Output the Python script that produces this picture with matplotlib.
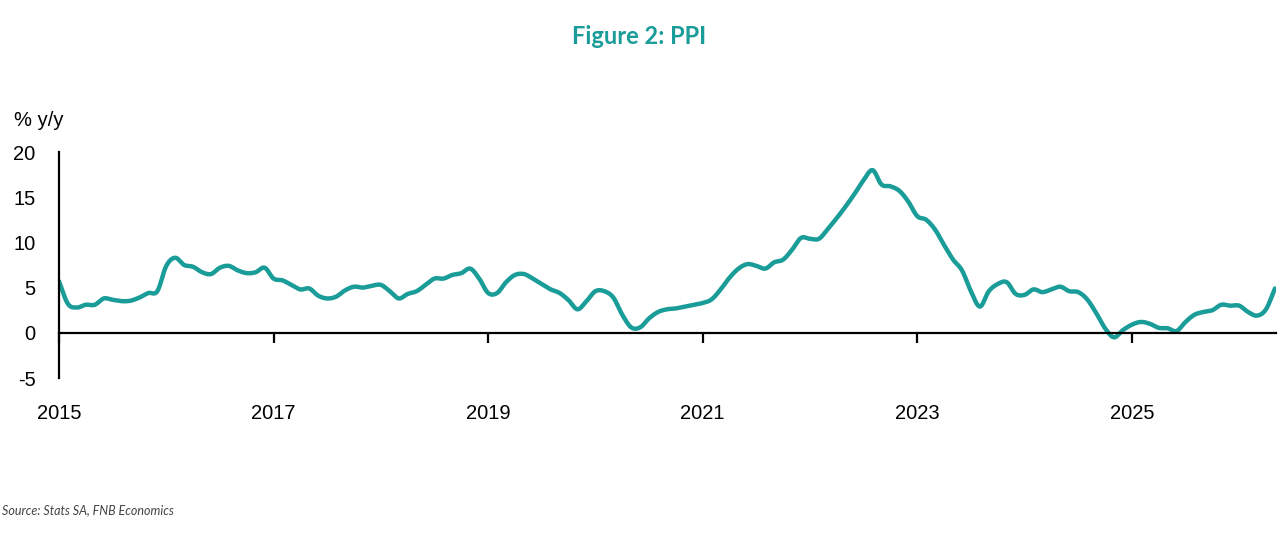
import numpy as np
import matplotlib.pyplot as plt

# PPI, % y/y, monthly from Jan 2015
start_year = 2015
ppi = [
    5.7, 3.2, 2.8, 3.1, 3.1, 3.8, 3.65, 3.5, 3.55, 3.9, 4.4, 4.6,
    7.4, 8.3, 7.5, 7.3, 6.7, 6.5, 7.2, 7.4, 6.9, 6.6, 6.7, 7.2,
    6.0, 5.8, 5.3, 4.8, 4.9, 4.1, 3.8, 4.0, 4.7, 5.1, 5.0, 5.2,
    5.3, 4.6, 3.8, 4.3, 4.6, 5.3, 6.0, 6.0, 6.4, 6.6, 7.1, 6.0,
    4.4, 4.4, 5.6, 6.4, 6.5, 6.0, 5.4, 4.8, 4.4, 3.6, 2.6, 3.5,
    4.6, 4.6, 3.9, 2.0, 0.6, 0.6, 1.6, 2.3, 2.6, 2.7, 2.9, 3.1,
    3.3, 3.7, 4.8, 6.1, 7.1, 7.6, 7.4, 7.1, 7.8, 8.1, 9.2, 10.5,
    10.4, 10.4, 11.5, 12.7, 14.0, 15.4, 16.9, 18.0, 16.4, 16.2, 15.7, 14.5,
    12.9, 12.5, 11.4, 9.7, 8.1, 6.9, 4.6, 2.9, 4.6, 5.4, 5.6, 4.3,
    4.2, 4.8, 4.5, 4.8, 5.1, 4.6, 4.5, 3.7, 2.2, 0.5, -0.5, 0.3,
    0.9, 1.2, 1.0, 0.55, 0.5, 0.2, 1.2, 2.0, 2.3, 2.5, 3.1, 3.0,
    3.0, 2.3, 1.9, 2.6, 4.9,
]
year_ticks = [2015, 2017, 2019, 2021, 2023, 2025]
y_ticks = [-5, 0, 5, 10, 15, 20]

teal = '#1a9c98'


def smooth(x, y, n=8):
    # Catmull-Rom style smoothing, like the spreadsheet "smoothed line"
    x = np.asarray(x, float)
    y = np.asarray(y, float)
    px = np.concatenate([[2 * x[0] - x[1]], x, [2 * x[-1] - x[-2]]])
    py = np.concatenate([[2 * y[0] - y[1]], y, [2 * y[-1] - y[-2]]])
    t = np.linspace(0, 1, n, endpoint=False)
    xs, ys = [], []
    for i in range(1, len(px) - 2):
        for arr, out in ((px, xs), (py, ys)):
            p0, p1, p2, p3 = arr[i - 1], arr[i], arr[i + 1], arr[i + 2]
            out.extend(0.5 * (2 * p1 + (-p0 + p2) * t
                              + (2 * p0 - 5 * p1 + 4 * p2 - p3) * t ** 2
                              + (-p0 + 3 * p1 - 3 * p2 + p3) * t ** 3))
    xs.append(x[-1])
    ys.append(y[-1])
    return np.array(xs), np.array(ys)


x = start_year + np.arange(len(ppi)) / 12
xs, ys = smooth(x, ppi)

plt.rcParams['font.family'] = ['Liberation Sans', 'DejaVu Sans']

fig = plt.figure(figsize=(12.81, 5.45), dpi=100)
ax = fig.add_axes([59 / 1281, 1 - 378 / 545, (1276 - 59) / 1281, (378 - 152) / 545])

ax.plot(xs, ys, color=teal, lw=3.2, solid_capstyle='round')

ax.set_xlim(start_year, start_year + 1216 / 107.2)
ax.set_ylim(-5, 20)

for s in ['top', 'right']:
    ax.spines[s].set_visible(False)
ax.spines['bottom'].set_position(('data', 0))
ax.spines['left'].set_linewidth(1.6)
ax.spines['bottom'].set_linewidth(1.6)

ax.set_yticks(y_ticks)
ax.set_yticklabels([str(v) for v in y_ticks])
ax.tick_params(axis='y', length=0, pad=17, labelsize=14.5)
ax.set_xticks(year_ticks)
ax.set_xticklabels([str(v) for v in year_ticks])
ax.tick_params(axis='x', direction='out', length=7, width=1.6, pad=44, labelsize=14.5)

fig.text(14 / 1281, 1 - 120 / 545, '% y/y', fontsize=14.5, va='center', ha='left')
fig.text(639 / 1281, 1 - 37 / 545, 'Figure 2: PPI', fontsize=17, fontweight='bold',
         color=teal, ha='center', va='center', family=['Lato', 'DejaVu Sans'])
fig.text(2 / 1281, 1 - 510 / 545, 'Source: Stats SA, FNB Economics', fontsize=9,
         style='italic', color='#444444', ha='left', va='center',
         family=['Lato', 'DejaVu Sans'])

fig.savefig('out.png', dpi=100)
